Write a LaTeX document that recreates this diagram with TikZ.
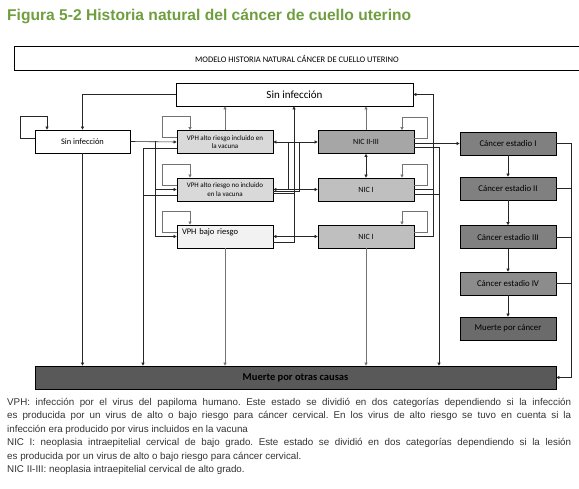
\documentclass[tikz,border=0pt]{standalone}
\usepackage{fontspec}
\setmainfont{Liberation Sans}
\newfontfamily\cali{Carlito}
\usetikzlibrary{arrows.meta}
\setlength{\parindent}{0pt}
\frenchspacing
\definecolor{titulo}{HTML}{6E9E3E}
\definecolor{vphalto}{HTML}{D9D9D9}
\definecolor{vphbajo}{HTML}{F2F2F2}
\definecolor{nicalto}{HTML}{A6A6A6}
\definecolor{nicbajo}{HTML}{BFBFBF}
\definecolor{cancer}{HTML}{808080}
\definecolor{cancerIV}{HTML}{8C8C8C}
\definecolor{muertecan}{HTML}{6B6B6B}
\definecolor{muerteotras}{HTML}{595959}
\begin{document}
\begin{tikzpicture}[x=1pt,y=-1pt,>={Triangle[length=3pt,width=3pt]},
  estado/.style={draw=black,line width=0.7pt,minimum width=96pt,minimum height=23pt,inner sep=1pt,align=center,font=\cali\fontsize{8.8}{10}\selectfont},
  linea/.style={draw=black!85,line width=0.6pt},
  flecha/.style={linea,->},
  gris/.style={draw=black!55}]
\useasboundingbox (0,0) rectangle (579,489);
\node[anchor=west,inner sep=0pt,text=titulo,font=\bfseries\fontsize{15.6}{18}\selectfont] (titulo) at (7,16) {Figura 5-2 Historia natural del cáncer de cuello uterino};
\node[minimum width=564pt,minimum height=23pt,inner sep=0pt,font=\cali\fontsize{8.5}{10}\selectfont] (modelo) at (297,58.5) {MODELO HISTORIA NATURAL CÁNCER DE CUELLO UTERINO};
\draw[line width=0.7pt] (modelo.north east) -- (modelo.north west) -- (modelo.south west) -- (modelo.south east);

% estados
\node[estado,minimum width=237pt,font=\cali\fontsize{11}{13}\selectfont] (sinTop) at (294.5,94.5) {Sin infección};
\node[estado,minimum width=95pt,font=\cali\fontsize{8.4}{10}\selectfont] (sinIzq) at (82.5,141.5) {Sin infección};
\node[estado,fill=vphalto,font=\cali\fontsize{7}{8.5}\selectfont] (vphA) at (225,142) {VPH alto riesgo incluido en\\la vacuna};
\node[estado,fill=vphalto,font=\cali\fontsize{7}{8.5}\selectfont] (vphB) at (225,189.5) {VPH alto riesgo no incluido\\en la vacuna};
\node[estado,fill=vphbajo,align=left,text width=86pt,font=\cali\fontsize{8.5}{10}\selectfont] (vphC) at (225,236.5) {\raisebox{2pt}[0pt][0pt]{VPH bajo riesgo}};
\node[estado,fill=nicalto,font=\cali\fontsize{8}{10}\selectfont] (nicA) at (366,142) {NIC II-III};
\node[estado,fill=nicbajo,font=\cali\fontsize{8}{10}\selectfont] (nicB) at (366,189.5) {NIC I};
\node[estado,fill=nicbajo,font=\cali\fontsize{8}{10}\selectfont] (nicC) at (366,236.5) {NIC I};
\node[estado,fill=cancer] (canI) at (508,143.5) {Cáncer estadio I};
\node[estado,fill=cancer] (canII) at (508,188.5) {Cáncer estadio II};
\node[estado,fill=cancer] (canIII) at (508,237) {Cáncer estadio III};
\node[estado,fill=cancerIV] (canIV) at (508,283.5) {Cáncer estadio IV};
\node[estado,fill=muertecan] (muerteCan) at (508,328.5) {Muerte por cáncer};
\node[estado,fill=muerteotras,minimum width=521pt,font=\cali\bfseries\fontsize{10.5}{12}\selectfont] (otras) at (295.5,377.5) {Muerte por otras causas};

% puntos de paso
\coordinate (rama) at (155,141.5);
\coordinate (bajaVph) at (143,0);
\coordinate (cruceA) at (288,0);
\coordinate (subeVph) at (294,0);
\coordinate (cruceB) at (299,0);
\coordinate (subeNic) at (433,0);
\coordinate (bajaNic) at (439,0);
\coordinate (derecha) at (571,0);

% auto-transiciones
\draw[flecha] ([yshift=3.5pt]sinIzq.west) -- ++(-14,0) -- ++(0,-22) -| ([xshift=-35.5pt]sinIzq.north);
\foreach \e in {vphA,vphB,vphC}
  \draw[flecha,gris] ([yshift=4.5pt]\e.west) -- ++(-14,0) -- ++(0,-21) -| ([xshift=-35pt]\e.north);
\foreach \e in {nicA,nicB,nicC}
  \draw[flecha,gris] ([yshift=4pt]\e.east) -- ++(13,0) -- ++(0,-21) -| ([xshift=36pt]\e.north);

% sin infeccion
\draw[flecha] (sinTop.west) -| (sinIzq.north);
\draw[flecha] (sinIzq.east) -- (vphA.west);
\draw[flecha] (rama) |- (vphB.west);
\draw[flecha] (rama) |- (vphC.west);
\draw[flecha,gris] (vphA.north) -- (vphA.north |- sinTop.south);
\draw[flecha,gris] (nicA.north) -- (nicA.north |- sinTop.south);

% VPH y NIC
\draw[linea,<->] (vphA) -- (nicA);
\draw[linea,<->] (vphB) -- (nicB);
\draw[linea,<->] (vphC) -- (nicC);
\draw[linea,<->] (nicA) -- (nicB);
\draw[linea] (vphA.east -| cruceA) -- (vphB.east -| cruceA);
\draw[linea] ([yshift=-2pt]vphB.east) -| (vphA.east -| cruceB);
\draw[linea] ([yshift=-4pt]vphB.east) -- ++(21,0);
\draw[flecha] ([yshift=-5.5pt]vphC.east) -| (sinTop.south -| subeVph);
\draw[linea] (nicB.east) -- ++(19,0);
\draw[flecha] (nicC.east) -| (subeNic |- sinTop.east) -- (sinTop.east);

% progresion a cancer
\draw[flecha] (nicA.east |- canI.west) -- (canI.west);
\foreach \a/\b in {canI/canII,canII/canIII,canIII/canIV,canIV/muerteCan}
  \draw[flecha] (\a) -- (\b);

% muerte por otras causas
\draw[flecha] (sinIzq.south) -- (sinIzq.south |- otras.north);
\draw[flecha] ([yshift=-6.5pt]vphA.west) -| (otras.north -| bajaVph);
\draw[linea] ([yshift=-5.5pt]vphB.west) -- ++(-34,0);
\draw[flecha,gris] (vphC.south) -- (vphC.south |- otras.north);
\draw[flecha,gris] (nicC.south) -- (nicC.south |- otras.north);
\draw[flecha] ([yshift=-5.5pt]nicA.east) -| (otras.north -| bajaNic);
\draw[linea] ([yshift=-4.5pt]nicB.east) -- ++(25,0);
\draw[flecha] (canI.east) -| (derecha |- otras.east) -- (otras.east);
\foreach \c in {canII,canIII,canIV}
  \draw[linea] (\c.east) -- (\c.east -| derecha);

\node[anchor=north west,inner sep=0pt,text width=564pt,align=justify,text=black!80,font=\fontsize{9.8}{13.4}\selectfont] (nota) at (7,398) {\hyphenpenalty=10000
VPH: infección por el virus del papiloma humano. Este estado se dividió en dos categorías dependiendo si la infección\linebreak
es producida por un virus de alto o bajo riesgo para cáncer cervical. En los virus de alto riesgo se tuvo en cuenta si la\linebreak
infección era producido por virus incluidos en la vacuna\par
NIC I: neoplasia intraepitelial cervical de bajo grado. Este estado se dividió en dos categorías dependiendo si la lesión\linebreak
es producida por un virus de alto o bajo riesgo para cáncer cervical.\par
NIC II-III: neoplasia intraepitelial cervical de alto grado.};
\end{tikzpicture}
\end{document}
